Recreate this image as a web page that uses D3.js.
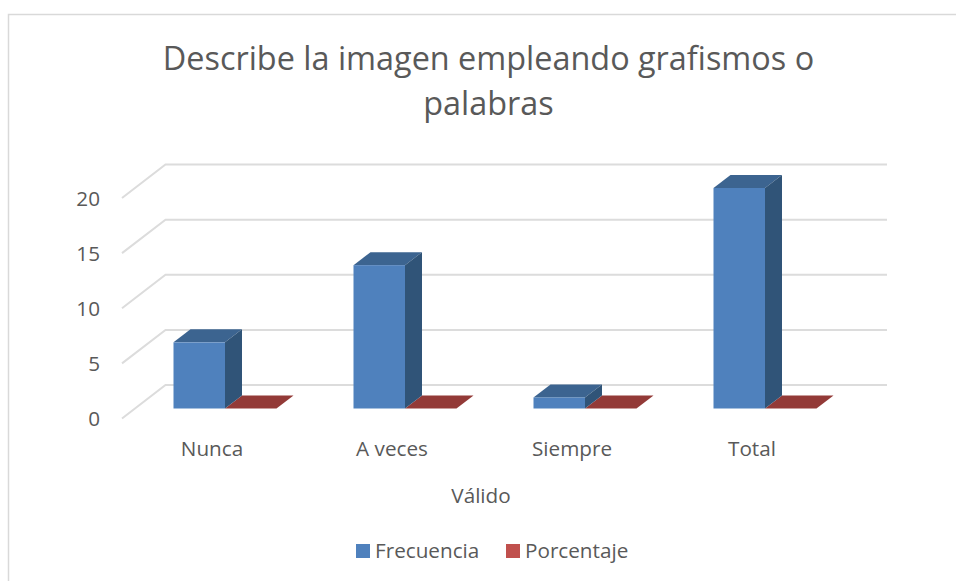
<!DOCTYPE html>
<html><head><meta charset="utf-8">
<style>html,body{margin:0;padding:0;background:#fff}svg{display:block}text{font-family:"Open Sans",sans-serif;fill:#595959}</style>
<script src="https://cdn.jsdelivr.net/npm/d3@7"></script></head>
<body><svg id="c" width="956" height="581"></svg>
<script>
const categories = ["Nunca","A veces","Siempre","Total"];
const frecuencia = [6,13,1,20];
const porcentaje = [0,0,0,0];
const yTicks = [0,5,10,15,20];
const titleLines = ["Describe la imagen empleando grafismos o","palabras"];
const xTitle = "Válido";
const legendLabels = ["Frecuencia","Porcentaje"];

const svg = d3.select("#c");
const y = d3.scaleLinear().domain([0,20]).range([408.5,188]);
const x0 = d3.scaleBand().domain(categories).range([122,842]);
const barW = 51.5, depthX = 17, depthY = 13;
const wallX = 43.5, wallY = 33.5;
const blue = {front:"#4f81bd",top:"#3c6490",side:"#305478"};
const red = {front:"#c0504d",top:"#933a37",side:"#7a2f2d"};

svg.append("path").attr("d","M8.5,581V14.5H956").attr("fill","none").attr("stroke","#d9d9d9").attr("stroke-width",1.5);

const grid = svg.append("g");
yTicks.forEach(t=>{
  const yy = y(t)+10;
  grid.append("path")
    .attr("d",`M${122},${yy}L${122+wallX},${yy-wallY}H887`)
    .attr("fill","none").attr("stroke","#dcdcdc").attr("stroke-width",2);
});

svg.append("g").selectAll("text").data(yTicks).join("text")
  .attr("x",100).attr("y",t=>y(t)+10.5)
  .attr("dy","0.35em").attr("text-anchor","end").attr("font-size",20.7).text(d=>d);

function bar3d(g,x,v,c){
  const t=y(v), b=y(0), r=x+barW;
  g.append("path").attr("d",`M${x},${t}L${x+depthX},${t-depthY}H${r+depthX}L${r},${t}Z`).attr("fill",c.top);
  g.append("path").attr("d",`M${r},${t}L${r+depthX},${t-depthY}V${b-depthY}L${r},${b}Z`).attr("fill",c.side);
  g.append("rect").attr("x",x).attr("y",t).attr("width",barW).attr("height",b-t).attr("fill",c.front);
}
const bars = svg.append("g");
categories.forEach((c,i)=>{
  const cx = x0(c)+x0.bandwidth()/2-38.5;
  bar3d(bars,cx+barW,porcentaje[i],red);
  bar3d(bars,cx,frecuencia[i],blue);
});

svg.append("g").selectAll("text").data(categories).join("text")
  .attr("x",c=>x0(c)+x0.bandwidth()/2).attr("y",449).attr("dy","0.35em")
  .attr("text-anchor","middle").attr("font-size",20.7).text(d=>d);

svg.append("text").attr("x",481).attr("y",496).attr("dy","0.35em").attr("text-anchor","middle").attr("font-size",20.7).text(xTitle);

svg.append("g").selectAll("text").data(titleLines).join("text")
  .attr("x",488.5).attr("y",(d,i)=>59+i*45).attr("dy","0.35em").attr("text-anchor","middle").attr("font-size",32.4).text(d=>d);

const lx = [356,506], ltx=[375,525], lc=[blue.front,red.front];
legendLabels.forEach((l,i)=>{
  svg.append("rect").attr("x",lx[i]).attr("y",544).attr("width",14).attr("height",14).attr("fill",lc[i]);
  svg.append("text").attr("x",ltx[i]).attr("y",551).attr("dy","0.35em").attr("font-size",20.7).text(l);
});
</script></body></html>
